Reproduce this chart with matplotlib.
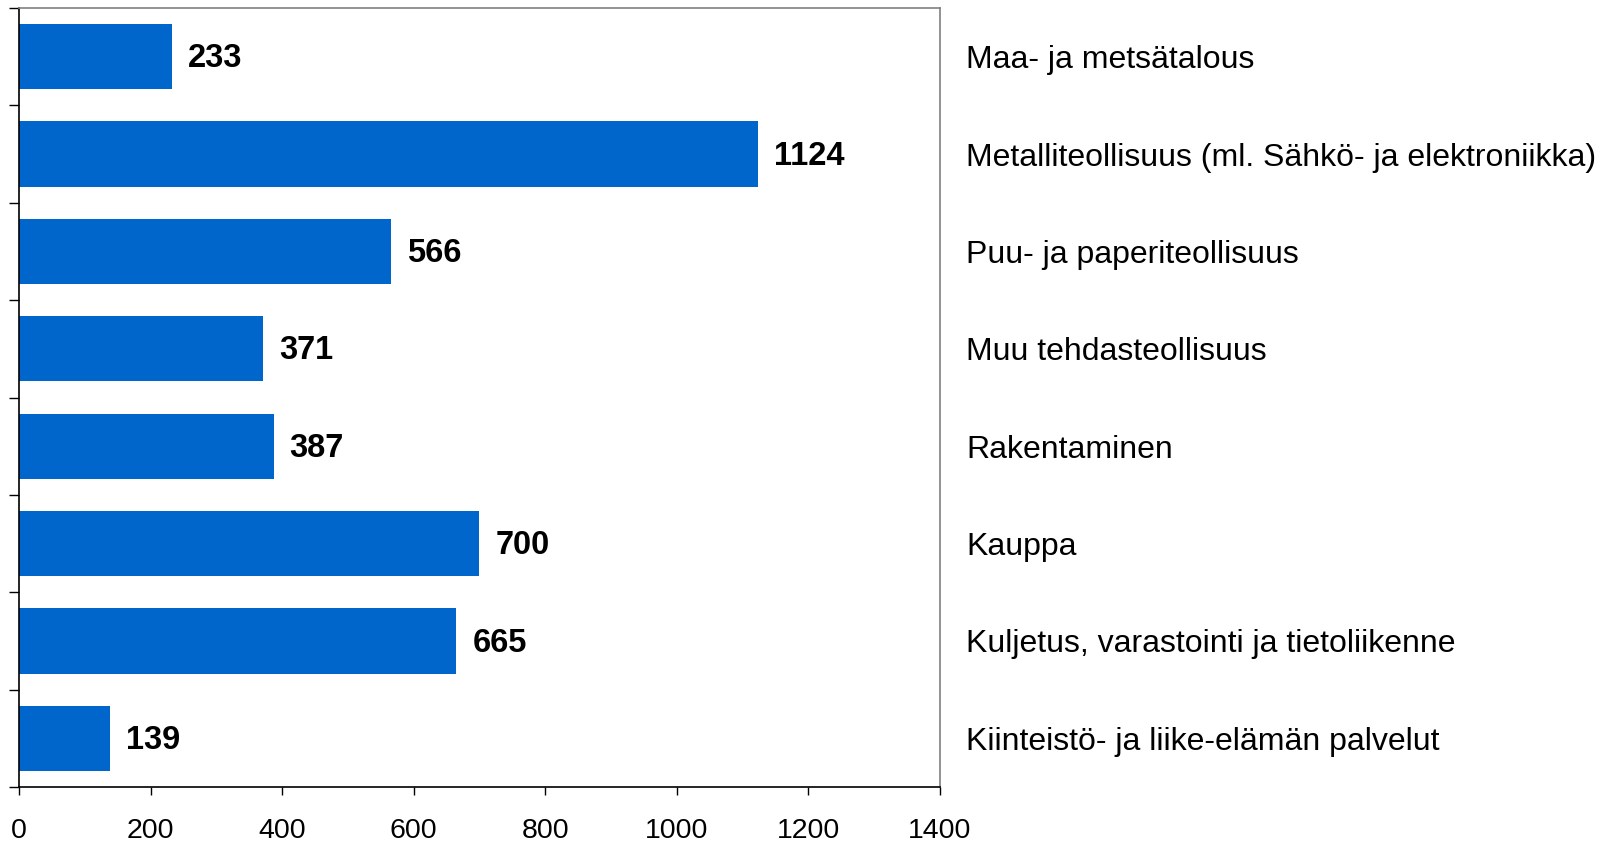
import matplotlib
matplotlib.use('Agg')
import matplotlib.pyplot as plt
import matplotlib.transforms as mtransforms

plt.rcParams['font.family'] = ['Liberation Sans', 'DejaVu Sans']

# Data (top to bottom as in the chart)
categories = ['Maa- ja metsätalous',
              'Metalliteollisuus (ml. Sähkö- ja elektroniikka)',
              'Puu- ja paperiteollisuus',
              'Muu tehdasteollisuus',
              'Rakentaminen',
              'Kauppa',
              'Kuljetus, varastointi ja tietoliikenne',
              'Kiinteistö- ja liike-elämän palvelut']
values = [233, 1124, 566, 371, 387, 700, 665, 139]
x_ticks = [0, 200, 400, 600, 800, 1000, 1200, 1400]

fig = plt.figure(figsize=(16.03, 8.42), dpi=100)
ax = fig.add_axes([19 / 1603, 1 - 787 / 842, (939.7 - 19) / 1603, (787 - 8) / 842])

n = len(categories)
ypos = list(range(n))
ax.barh(ypos, values, height=0.67, color='#0066CC')
ax.set_ylim(n - 0.5, -0.5)
ax.set_xlim(0, 1400)

for y, v in zip(ypos, values):
    ax.annotate(str(v), (v, y), xytext=(11.5, -1.5), textcoords='offset points',
                va='center', ha='left', fontsize=23.5, fontweight='bold')

# category names to the right of the plot area
trans = mtransforms.blended_transform_factory(ax.transAxes, ax.transData)
for y, name in zip(ypos, categories):
    ax.annotate(name, (1.029, y), xycoords=trans, xytext=(0, -2.5),
                textcoords='offset points', va='center', ha='left', fontsize=23)

ax.set_xticks(x_ticks)
ax.set_xticklabels([str(t) for t in x_ticks], fontsize=20.5)
ax.set_yticks([i - 0.5 for i in range(n + 1)])
ax.set_yticklabels([])
ax.tick_params(axis='x', direction='out', length=6, width=1, pad=16.5)
ax.tick_params(axis='y', direction='out', length=7, width=1)

for side in ['left', 'bottom']:
    ax.spines[side].set_color('black')
    ax.spines[side].set_linewidth(1.2)
for side in ['top', 'right']:
    ax.spines[side].set_color('#808080')
    ax.spines[side].set_linewidth(1.2)

fig.savefig('out.png', dpi=100)
